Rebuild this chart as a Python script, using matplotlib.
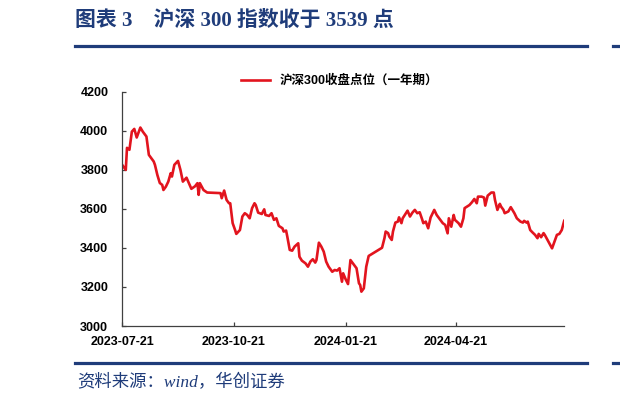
import matplotlib
matplotlib.use('Agg')
import matplotlib.pyplot as plt
import matplotlib.dates as mdates
import pandas as pd

plt.rcParams['font.family'] = ['Liberation Sans', 'Noto Sans CJK SC']

# 沪深300收盘点位（一年期）
dates = [
    '2023-07-21', '2023-07-24', '2023-07-25', '2023-07-27', '2023-07-29', '2023-07-31',
    '2023-08-02', '2023-08-05', '2023-08-07', '2023-08-10', '2023-08-12', '2023-08-16',
    '2023-08-17', '2023-08-19', '2023-08-21', '2023-08-23', '2023-08-24', '2023-08-26',
    '2023-08-28', '2023-08-30', '2023-08-31', '2023-09-02', '2023-09-05', '2023-09-07',
    '2023-09-09', '2023-09-12', '2023-09-14', '2023-09-16', '2023-09-19', '2023-09-21',
    '2023-09-22', '2023-09-23', '2023-09-26', '2023-09-29', '2023-10-10', '2023-10-11',
    '2023-10-13', '2023-10-15', '2023-10-17', '2023-10-18', '2023-10-20', '2023-10-22',
    '2023-10-23', '2023-10-26', '2023-10-28', '2023-10-30', '2023-11-01', '2023-11-03',
    '2023-11-05', '2023-11-07', '2023-11-08', '2023-11-10', '2023-11-13', '2023-11-15',
    '2023-11-16', '2023-11-19', '2023-11-21', '2023-11-23', '2023-11-25', '2023-11-27',
    '2023-11-30', '2023-12-01', '2023-12-03', '2023-12-04', '2023-12-06', '2023-12-08',
    '2023-12-10', '2023-12-13', '2023-12-14', '2023-12-16', '2023-12-19', '2023-12-21',
    '2023-12-23', '2023-12-25', '2023-12-27', '2023-12-28', '2023-12-30', '2024-01-01',
    '2024-01-03', '2024-01-05', '2024-01-07', '2024-01-10', '2024-01-12', '2024-01-14',
    '2024-01-16', '2024-01-18', '2024-01-19', '2024-01-21', '2024-01-23', '2024-01-25',
    '2024-01-28', '2024-01-30', '2024-02-01', '2024-02-02', '2024-02-03', '2024-02-05',
    '2024-02-07', '2024-02-09', '2024-02-20', '2024-02-22', '2024-02-23', '2024-02-25',
    '2024-02-26', '2024-02-28', '2024-02-29', '2024-03-02', '2024-03-04', '2024-03-05',
    '2024-03-07', '2024-03-08', '2024-03-11', '2024-03-12', '2024-03-14', '2024-03-16',
    '2024-03-18', '2024-03-20', '2024-03-22', '2024-03-24', '2024-03-25', '2024-03-27',
    '2024-03-29', '2024-03-31', '2024-04-03', '2024-04-05', '2024-04-07', '2024-04-10',
    '2024-04-12', '2024-04-14', '2024-04-15', '2024-04-17', '2024-04-19', '2024-04-20',
    '2024-04-23', '2024-04-25', '2024-04-27', '2024-04-28', '2024-04-30', '2024-05-02',
    '2024-05-04', '2024-05-06', '2024-05-08', '2024-05-09', '2024-05-12', '2024-05-14',
    '2024-05-15', '2024-05-17', '2024-05-20', '2024-05-22', '2024-05-23', '2024-05-25',
    '2024-05-27', '2024-05-28', '2024-05-30', '2024-05-31', '2024-06-03', '2024-06-05',
    '2024-06-08', '2024-06-10', '2024-06-13', '2024-06-15', '2024-06-16', '2024-06-18',
    '2024-06-19', '2024-06-21', '2024-06-23', '2024-06-25', '2024-06-27', '2024-06-28',
    '2024-06-30', '2024-07-02', '2024-07-03', '2024-07-06', '2024-07-08', '2024-07-09',
    '2024-07-11', '2024-07-13', '2024-07-15', '2024-07-17', '2024-07-19',
]
close = [
    3826, 3800, 3913, 3903, 3996, 4010,
    3966, 4017, 3996, 3971, 3877, 3843,
    3826, 3774, 3733, 3723, 3697, 3714,
    3740, 3783, 3766, 3826, 3846, 3800,
    3740, 3760, 3732, 3703, 3716, 3732,
    3672, 3732, 3697, 3684, 3681, 3655,
    3694, 3646, 3629, 3629, 3527, 3492,
    3472, 3492, 3561, 3578, 3569, 3552,
    3604, 3629, 3620, 3581, 3574, 3598,
    3569, 3564, 3578, 3544, 3552, 3513,
    3501, 3484, 3489, 3458, 3390, 3386,
    3407, 3424, 3355, 3335, 3321, 3304,
    3330, 3342, 3325, 3338, 3427, 3407,
    3381, 3330, 3304, 3278, 3287, 3284,
    3296, 3227, 3270, 3240, 3215, 3338,
    3313, 3296, 3219, 3210, 3176, 3193,
    3304, 3359, 3401, 3450, 3484, 3476,
    3458, 3441, 3484, 3530, 3535, 3557,
    3527, 3552, 3581, 3591, 3561, 3581,
    3595, 3578, 3583, 3547, 3527, 3535,
    3501, 3556, 3595, 3569, 3552, 3527,
    3518, 3475, 3552, 3509, 3569, 3544,
    3527, 3509, 3552, 3604, 3612, 3620,
    3634, 3651, 3629, 3663, 3663, 3658,
    3617, 3668, 3684, 3684, 3646, 3595,
    3626, 3612, 3595, 3578, 3587, 3609,
    3578, 3552, 3535, 3530, 3539, 3530,
    3535, 3492, 3479, 3467, 3450, 3472,
    3455, 3476, 3467, 3433, 3410, 3398,
    3433, 3467, 3472, 3492, 3539,
]
xtick_labels = ['2023-07-21', '2023-10-21', '2024-01-21', '2024-04-21']
yticks = [3000, 3200, 3400, 3600, 3800, 4000, 4200]

title = '图表 3    沪深 300 指数收于 3539 点'
legend_label = '沪深300收盘点位（一年期）'
source = '资料来源：wind，华创证券'

navy = '#1F3C7A'
red = '#E2141E'

x = pd.to_datetime(dates)

fig = plt.figure(figsize=(6.2, 4.01), dpi=100)
ax = fig.add_axes([0.197, 0.187, 0.713, 0.584])

ax.plot(x, close, color=red, lw=1.9, label=legend_label)

ax.set_ylim(3000, 4200)
ax.set_yticks(yticks)
ax.set_xlim(x[0], x[-1])
ax.set_xticks(pd.to_datetime(xtick_labels))
ax.xaxis.set_major_formatter(mdates.DateFormatter('%Y-%m-%d'))

for s in ['top', 'right']:
    ax.spines[s].set_visible(False)
for s in ['left', 'bottom']:
    ax.spines[s].set_color('#404040')
    ax.spines[s].set_linewidth(0.9)
ax.tick_params(axis='both', direction='in', length=3, width=0.9, color='#404040',
               labelsize=9)
ax.tick_params(axis='y', pad=10)
ax.tick_params(axis='x', pad=7)
for lab in ax.get_xticklabels() + ax.get_yticklabels():
    lab.set_fontweight('bold')

leg = ax.legend(loc='center', bbox_to_anchor=(340 / 620, 1 - 81 / 401),
                bbox_transform=fig.transFigure, frameon=False,
                prop={'size': 9, 'weight': 'bold'}, handlelength=2.3)

# 标题与上下横线
fig.text(75 / 620, 1 - 21 / 401, title, color=navy, fontsize=15, fontweight='bold',
         family=['Liberation Serif', 'Noto Sans CJK SC'], va='center', ha='left')
fig.add_artist(plt.Line2D([75 / 620, 587 / 620], [1 - 46 / 401] * 2, color=navy, lw=2.3))
fig.add_artist(plt.Line2D([75 / 620, 587 / 620], [1 - 363 / 401] * 2, color=navy, lw=2.3))
fig.text(77 / 620, 1 - 383 / 401, source, color=navy, fontsize=12.5, style='italic',
         family=['Liberation Serif', 'Noto Sans CJK SC'], va='center', ha='left')

# 右侧相邻图表的残边
fig.add_artist(plt.Line2D([613 / 620, 1.0], [1 - 46 / 401] * 2, color=navy, lw=2.3))
fig.add_artist(plt.Line2D([613 / 620, 1.0], [1 - 363 / 401] * 2, color=navy, lw=2.3))

fig.savefig('out.png', dpi=100)
